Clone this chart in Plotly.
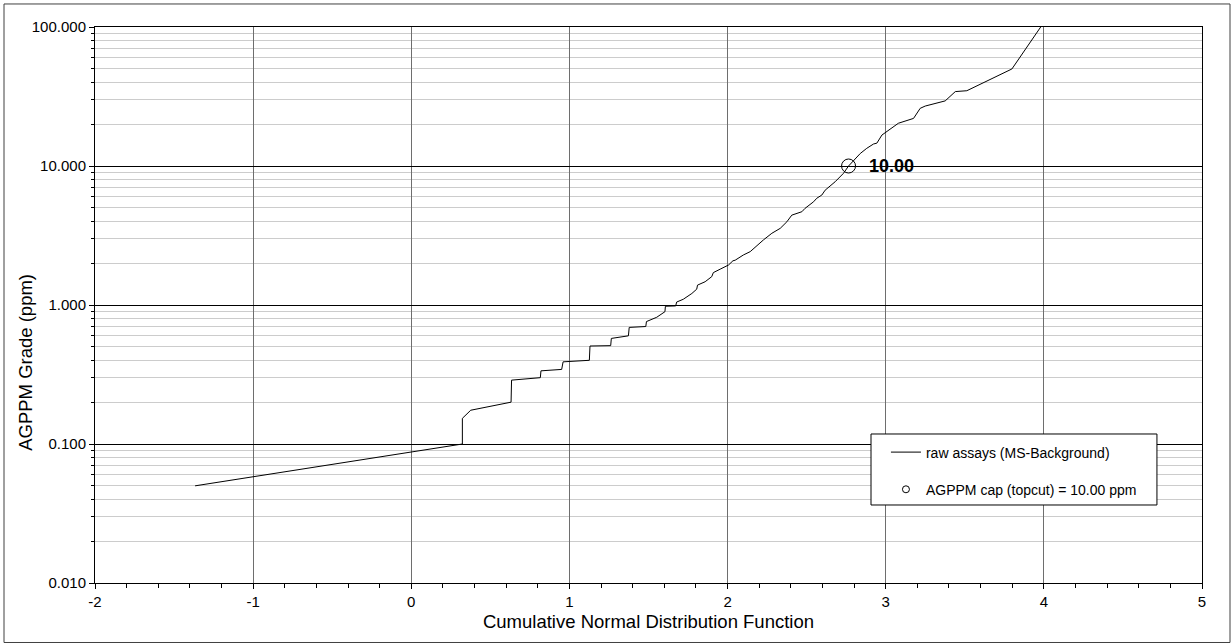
import plotly.graph_objects as go

# --- data ---
cdf_x = [-1.367, 0.323, 0.323, 0.376, 0.631, 0.634, 0.816, 0.820, 0.951, 0.960,
         1.126, 1.130, 1.261, 1.265, 1.373, 1.378, 1.483, 1.487, 1.552, 1.604,
         1.607, 1.672, 1.678, 1.720, 1.774, 1.805, 1.810, 1.858, 1.900, 1.910,
         1.953, 2.006, 2.034, 2.048, 2.100, 2.143, 2.227, 2.280, 2.333, 2.375,
         2.406, 2.470, 2.490, 2.544, 2.564, 2.596, 2.617, 2.680, 2.733, 2.765,
         2.839, 2.880, 2.923, 2.944, 2.976, 3.007, 3.080, 3.176, 3.218, 3.250,
         3.376, 3.440, 3.513, 3.798, 3.980]
grade = [0.050, 0.100, 0.153, 0.175, 0.200, 0.288, 0.300, 0.336, 0.344, 0.390,
         0.400, 0.507, 0.510, 0.575, 0.600, 0.690, 0.700, 0.760, 0.816, 0.895,
         0.980, 0.985, 1.050, 1.100, 1.210, 1.300, 1.390, 1.470, 1.600, 1.710,
         1.810, 1.940, 2.080, 2.100, 2.290, 2.420, 2.940, 3.280, 3.560, 3.970,
         4.430, 4.690, 4.960, 5.530, 5.860, 6.180, 6.700, 7.700, 8.860, 10.00,
         12.30, 13.40, 14.40, 14.60, 16.70, 17.70, 20.30, 22.00, 26.00, 27.00,
         29.40, 34.30, 34.80, 49.90, 100.0]
cap_x = [2.765]
cap_value = [10.0]
cap_label = "10.00"

y_tickvals = [0.01, 0.1, 1, 10, 100]
y_ticktext = ["0.010", "0.100", "1.000", "10.000", "100.000"]
y_minor = [m * 10 ** e for e in range(-2, 2) for m in range(2, 10)]
x_tickvals = [-2, -1, 0, 1, 2, 3, 4, 5]
x_ticktext = ["-2", "-1", "0", "1", "2", "3", "4", "5"]

FONT = "Arial, 'Liberation Sans', sans-serif"

fig = go.Figure()
fig.add_trace(go.Scatter(
    x=cdf_x, y=grade, mode="lines", name="raw assays (MS-Background)",
    line=dict(color="black", width=1), legendgroup="a"))
fig.add_trace(go.Scatter(
    x=cap_x, y=cap_value, mode="markers", showlegend=False,
    marker=dict(symbol="circle-open", size=14, color="black", line=dict(width=1))))
fig.add_trace(go.Scatter(
    x=[None], y=[None], mode="markers", name="AGPPM cap (topcut) = 10.00 ppm",
    marker=dict(symbol="circle-open", size=7, color="black", line=dict(width=1)),
    legendgroup="b"))

fig.add_annotation(x=cap_x[0] + 0.115, y=1, xref="x", yref="y",
                   text="<b>" + cap_label + "</b>", showarrow=False,
                   xanchor="left", yanchor="middle",
                   font=dict(family=FONT, size=18, color="black"))

# y-axis title (placed lower than centre, as in the reference)
fig.add_annotation(x=-0.0625, y=0.3975, xref="paper", yref="paper",
                   text="AGPPM Grade (ppm)", textangle=-90, showarrow=False,
                   xanchor="center", yanchor="middle",
                   font=dict(family=FONT, size=18.5, color="black"))

# outer chart border
fig.add_shape(type="rect", xref="paper", yref="paper",
              x0=-0.0822, x1=1.0253, y0=-0.107, y1=1.0414,
              line=dict(color="#404040", width=1))
# legend frame
fig.add_shape(type="rect", xref="paper", yref="paper", layer="above",
              x0=0.701, x1=0.9593, y0=0.1403, y1=0.268,
              line=dict(color="black", width=1), fillcolor="white")

fig.update_xaxes(
    range=[-2, 5], tickvals=x_tickvals, ticktext=x_ticktext,
    ticks="outside", ticklen=5,
    tickcolor="black", showline=True, linecolor="black", mirror=True,
    showgrid=True, gridcolor="#6e6e6e", gridwidth=1, zeroline=False,
    tickfont=dict(family=FONT, size=15, color="black"),
    title=dict(text="Cumulative Normal Distribution Function",
               font=dict(family=FONT, size=18.5, color="black"), standoff=6),
    minor=dict(dtick=0.2, ticks="outside", ticklen=4, tickcolor="black",
               showgrid=False))
fig.update_yaxes(
    type="log", range=[-2, 2], tickvals=y_tickvals, ticktext=y_ticktext,
    ticks="outside", ticklen=5, tickcolor="black", showline=True,
    linecolor="black", mirror=True, showgrid=True, gridcolor="black",
    gridwidth=1, zeroline=False,
    tickfont=dict(family=FONT, size=15, color="black"),
    minor=dict(tickvals=y_minor, ticks="outside", ticklen=3,
               tickcolor="black", showgrid=True, gridcolor="#cccccc",
               gridwidth=1))

fig.update_layout(
    width=1231, height=644, autosize=False,
    margin=dict(l=95, r=29, t=27, b=61),
    paper_bgcolor="white", plot_bgcolor="white",
    font=dict(family=FONT, color="black"),
    legend=dict(x=0.7145, y=0.2635, xanchor="left", yanchor="top",
                bgcolor="rgba(0,0,0,0)", borderwidth=0,
                font=dict(family=FONT, size=14, color="black"),
                traceorder="grouped", tracegroupgap=16),
)

fig.write_html("out.html", config={"displayModeBar": False},
               post_script="document.body.style.margin='0';document.body.style.overflow='hidden';")
